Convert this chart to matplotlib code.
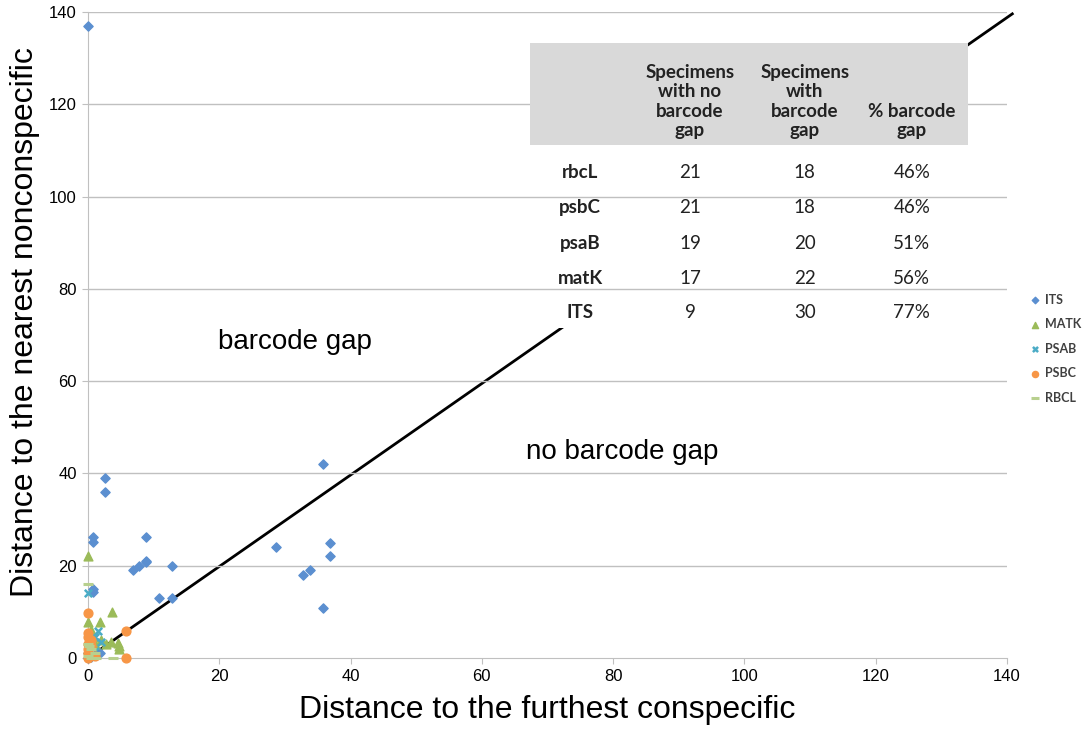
import matplotlib
matplotlib.use("Agg")
import matplotlib.pyplot as plt
from matplotlib.patches import Rectangle

plt.rcParams["font.family"] = ["Liberation Sans", "DejaVu Sans"]

# distance to furthest conspecific (x) vs nearest nonconspecific (y), per marker
its_x = [0, 2.6, 2.6, 0.7, 0.7, 8.8, 8.8, 8.8, 6.8, 7.8, 12.8, 10.8, 12.8, 0.7, 0.7,
         28.7, 35.8, 36.9, 36.9, 32.8, 33.8, 35.8, 1.8, 0, 0.5, 0]
its_y = [137, 39, 36, 26.2, 25.1, 26.2, 21, 20.8, 19.1, 19.9, 20, 13, 12.9, 15, 14.2,
         24.1, 42, 25, 22.1, 18, 19.1, 10.9, 1.1, 1, 0.3, 0]

matk_x = [0, 3.6, 1.8, 0, 0.5, 0.8, 2, 3.5, 4.6, 4.8, 4.8, 1, 0, 2.8, 0.3]
matk_y = [22, 9.9, 7.9, 7.9, 6.1, 4.6, 4, 3.5, 3.2, 1.9, 2.6, 3, 2, 3, 1]

psab_x = [0, 1.5, 1, 0.5, 2, 0, 1, 0.5, 0]
psab_y = [14, 5.9, 4.5, 3, 3.5, 2, 1.5, 0.5, 4]

psbc_x = [0, 0, 5.8, 5.8, 0, 0, 0, 0.5, 0, 1, 0.5, 0]
psbc_y = [9.8, 5.4, 5.9, 0, 3, 2, 1, 4, 0, 0.5, 2.5, 4.5]

rbcl_x = [0, 3.8, 0, 0.5, 1, 0, 0.5, 1.2, 0.2]
rbcl_y = [16, 0, 3, 2, 1, 0.5, 0, 0, 2.5]

# summary table
genes = ["rbcL", "psbC", "psaB", "matK", "ITS"]
no_gap = [21, 21, 19, 17, 9]
with_gap = [18, 18, 20, 22, 30]
pct_gap = ["46%", "46%", "51%", "56%", "77%"]
col_heads = ["Specimens\nwith no\nbarcode\ngap", "Specimens\nwith\nbarcode\ngap", "% barcode\ngap"]

yticks = [0, 20, 40, 60, 80, 100, 120, 140]
xticks = [0, 20, 40, 60, 80, 100, 120, 140]

fig = plt.figure(figsize=(10.9, 7.41), dpi=100)
ax = fig.add_axes([0.0807, 0.112, 0.8432, 0.8718])
ax.set_xlim(0, 140)
ax.set_ylim(0, 140)

grid_c = "#c0c0c0"
for yv in yticks[1:]:
    ax.axhline(yv, color=grid_c, lw=1, zorder=3)

# 1:1 line separating gap / no gap
ax.plot([0, 140.8], [0, 139.6], color="black", lw=2, zorder=2, clip_on=False)

# table body and header
tx0, tx1 = 67.3, 134.1
ax.add_patch(Rectangle((tx0, 71.6), tx1 - tx0, 111.2 - 71.6, facecolor="white",
                       edgecolor="none", zorder=2.5))
ax.add_patch(Rectangle((tx0, 111.2), tx1 - tx0, 133.3 - 111.2, facecolor="#d9d9d9",
                       edgecolor="none", zorder=3.5))

tfont = ["Lato", "DejaVu Sans"]
col_x = [91.7, 109.2, 125.5]
for cx, head in zip(col_x, col_heads):
    ax.text(cx, 112.4, head, ha="center", va="bottom", multialignment="center",
            fontsize=13.5, fontweight="bold", family=tfont, linespacing=1.18,
            color="#222222", zorder=5)
row_y = [105.3, 97.7, 89.9, 82.3, 74.8]
for ry, g, a, b, p in zip(row_y, genes, no_gap, with_gap, pct_gap):
    ax.text(75.0, ry, g, ha="center", va="center", fontsize=13.5, fontweight="bold",
            family=tfont, color="#222222", zorder=5)
    for cx, val in zip(col_x, [a, b, p]):
        ax.text(cx, ry, str(val), ha="center", va="center", fontsize=13.5,
                family=tfont, color="#222222", zorder=5)

ax.text(31.5, 68.5, "barcode gap", ha="center", va="center", fontsize=20, zorder=5)
ax.text(81.4, 44.7, "no barcode gap", ha="center", va="center", fontsize=20, zorder=5)

# series
ax.scatter(its_x, its_y, marker="D", s=22, color="#5b8fd0", label="ITS", zorder=4,
           clip_on=False)
ax.scatter(matk_x, matk_y, marker="^", s=40, color="#9bbb59", label="MATK", zorder=4,
           clip_on=False)
ax.scatter(psab_x, psab_y, marker="x", s=28, color="#4bacc6", linewidths=1.8,
           label="PSAB", zorder=4, clip_on=False)
ax.scatter(psbc_x, psbc_y, marker="o", s=40, color="#f79646", label="PSBC", zorder=4,
           clip_on=False)
ax.scatter(rbcl_x, rbcl_y, marker="_", s=60, color="#b8d08e", linewidths=2.2,
           label="RBCL", zorder=4.2, clip_on=False)

for side in ["top", "right"]:
    ax.spines[side].set_visible(False)
for side in ["left", "bottom"]:
    ax.spines[side].set_color(grid_c)
    ax.spines[side].set_zorder(3)

ax.set_xticks(xticks)
ax.set_yticks(yticks)
ax.tick_params(axis="both", direction="out", length=4, color=grid_c, labelsize=12,
               pad=4)
ax.set_xlabel("Distance to the furthest conspecific", fontsize=23)
ax.set_ylabel("Distance to the nearest nonconspecific", fontsize=23)
ax.xaxis.set_label_coords(0.5, -0.057)
ax.yaxis.set_label_coords(-0.052, 0.52)

leg = fig.legend(loc="upper left", bbox_to_anchor=(0.9356, 0.619), frameon=False,
                 handlelength=0.6, handletextpad=0.5, labelspacing=1.0,
                 markerscale=0.7, prop={"family": tfont, "size": 9, "weight": "bold"})
for t in leg.get_texts():
    t.set_color("#404040")

fig.savefig("out.png", dpi=100)
